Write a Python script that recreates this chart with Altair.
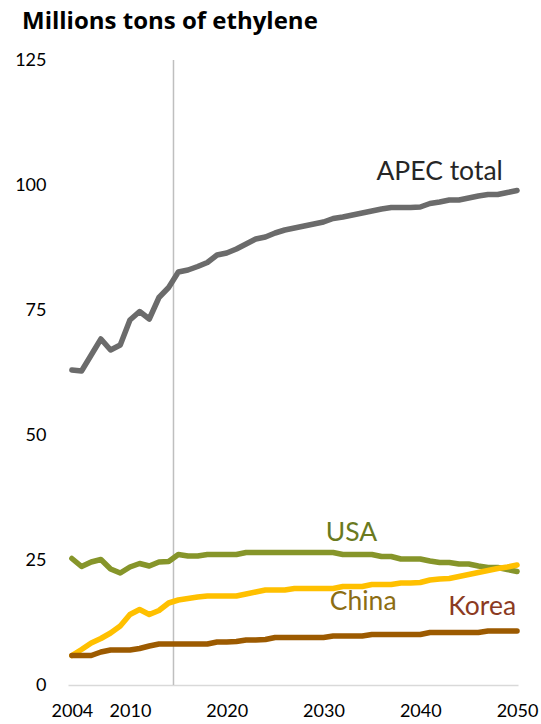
import altair as alt
import pandas as pd

years = list(range(2004, 2051))

apec_total = [63.0, 62.8, 66.0, 69.2, 67.0, 68.0, 73.0, 74.7, 73.2, 77.5,
              79.5, 82.6, 83.0, 83.7, 84.5, 86.0, 86.4, 87.2, 88.2, 89.2,
              89.6, 90.4, 91.0, 91.4, 91.8, 92.2, 92.6, 93.3, 93.6, 94.0,
              94.4, 94.8, 95.2, 95.5, 95.5, 95.5, 95.6, 96.3, 96.6, 97.0,
              97.0, 97.4, 97.8, 98.1, 98.1, 98.5, 98.9]

usa = [25.3, 23.7, 24.6, 25.1, 23.2, 22.4, 23.6, 24.3, 23.8, 24.6,
       24.7, 26.1, 25.8, 25.8, 26.1, 26.1, 26.1, 26.1, 26.5, 26.5,
       26.5, 26.5, 26.5, 26.5, 26.5, 26.5, 26.5, 26.5, 26.1, 26.1,
       26.1, 26.1, 25.7, 25.7, 25.2, 25.2, 25.2, 24.8, 24.5, 24.5,
       24.2, 24.2, 23.8, 23.5, 23.5, 23.1, 22.7]

china = [5.9, 7.1, 8.4, 9.3, 10.4, 11.8, 14.1, 15.1, 14.1, 14.9,
         16.4, 17.0, 17.3, 17.6, 17.8, 17.8, 17.8, 17.8, 18.2, 18.6,
         19.0, 19.0, 19.0, 19.3, 19.3, 19.3, 19.3, 19.3, 19.7, 19.7,
         19.7, 20.1, 20.1, 20.1, 20.4, 20.4, 20.5, 21.0, 21.2, 21.3,
         21.7, 22.1, 22.5, 22.9, 23.3, 23.6, 24.0]

korea = [5.9, 5.9, 5.9, 6.6, 7.0, 7.0, 7.0, 7.3, 7.8, 8.2,
         8.2, 8.2, 8.2, 8.2, 8.2, 8.6, 8.6, 8.7, 9.0, 9.0,
         9.1, 9.5, 9.5, 9.5, 9.5, 9.5, 9.5, 9.8, 9.8, 9.8,
         9.8, 10.1, 10.1, 10.1, 10.1, 10.1, 10.1, 10.5, 10.5, 10.5,
         10.5, 10.5, 10.5, 10.8, 10.8, 10.8, 10.8]

series_names = ["APEC total", "USA", "China", "Korea"]
series_values = [apec_total, usa, china, korea]
line_colors = ["#6b6b6b", "#86952a", "#ffc000", "#9c5a00"]
label_colors = ["#262626", "#6a7a1e", "#8c6d12", "#8b3a22"]

# label anchor points (year, value) for each series name
label_x = [2042.0, 2032.9, 2034.1, 2046.4]
label_y = [102.6, 30.4, 16.6, 15.6]

divider_year = [2014.5]

FONT = "Lato"

x_scale = alt.Scale(domain=[2003.6, 2050.1], nice=False, zero=False)
y_scale = alt.Scale(domain=[0, 125], nice=False)

x_axis = alt.Axis(values=[2004, 2010, 2020, 2030, 2040, 2050], format="d",
                  title=None, grid=False, ticks=False, domain=True,
                  domainColor="#d9d9d9", domainWidth=1.3, labelFontSize=18,
                  labelColor="#000000", labelFont=FONT, labelPadding=17,
                  labelFlush=False)
y_axis = alt.Axis(values=[0, 25, 50, 75, 100, 125], title=None, grid=False,
                  ticks=False, domain=False, labelFontSize=18,
                  labelColor="#000000", labelFont=FONT, labelPadding=22)

divider = alt.Chart(pd.DataFrame({"year": divider_year})).mark_rule(
    color="#bfbfbf", strokeWidth=1.5
).encode(
    x=alt.X("year:Q", scale=x_scale, axis=x_axis),
    y=alt.value(0),
    y2=alt.value(625),
)

layers = [divider]
for name, vals, col in zip(series_names, series_values, line_colors):
    df = pd.DataFrame({"year": years, "value": vals})
    layers.append(
        alt.Chart(df).mark_line(color=col, strokeWidth=5.5, strokeCap="round",
                                strokeJoin="round").encode(
            x=alt.X("year:Q", scale=x_scale, axis=x_axis),
            y=alt.Y("value:Q", scale=y_scale, axis=y_axis),
        )
    )

labels_df = pd.DataFrame({"name": series_names, "x": label_x, "y": label_y,
                          "color": label_colors})
labels = alt.Chart(labels_df).mark_text(
    font=FONT, fontSize=26.5, align="center", baseline="middle"
).encode(
    x=alt.X("x:Q", scale=x_scale, axis=x_axis),
    y=alt.Y("y:Q", scale=y_scale, axis=y_axis),
    text="name:N",
    color=alt.Color("color:N", scale=None),
)
layers.append(labels)

chart = alt.layer(*layers).properties(
    width=450,
    height=625,
    background="#ffffff",
    title=alt.TitleParams("Millions tons of ethylene", anchor="start",
                          frame="group", dx=-46, offset=17, font="Open Sans",
                          fontSize=24, fontWeight="bold", color="#000000"),
    autosize=alt.AutoSizeParams(type="none"),
    padding={"left": 68, "top": 60, "right": 23, "bottom": 39},
).configure_view(stroke=None, strokeWidth=0)

chart.save("out.html", embed_options={"renderer": "svg", "actions": False})
